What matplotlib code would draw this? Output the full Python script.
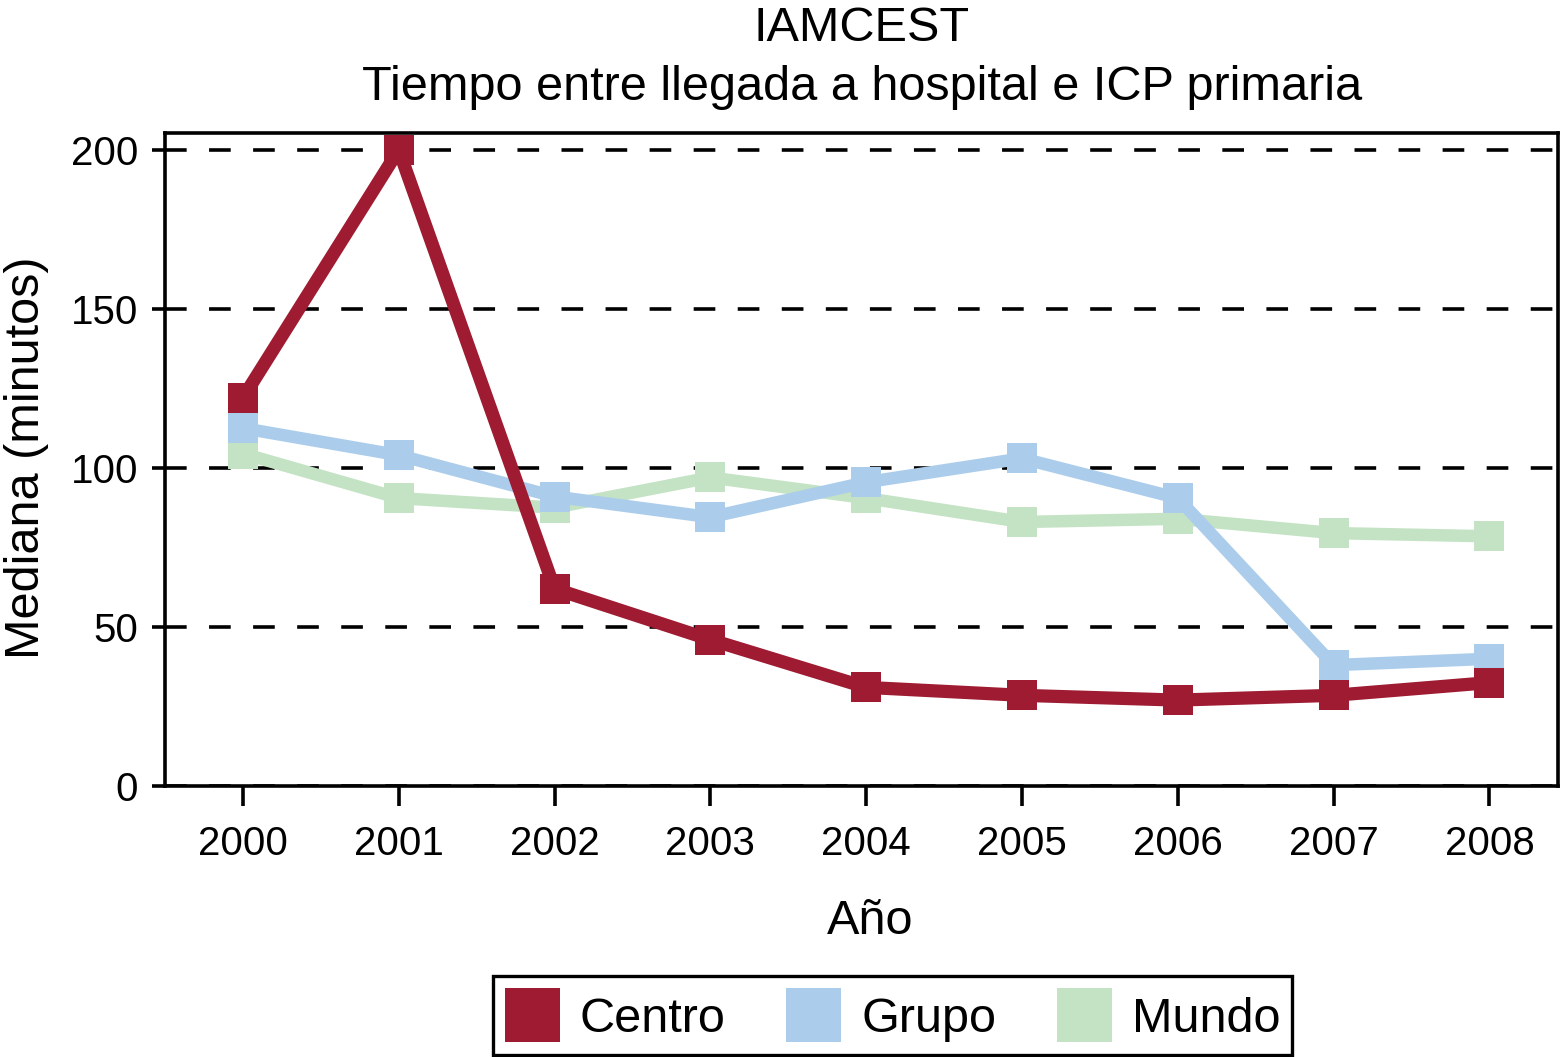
import matplotlib
matplotlib.use('Agg')
import matplotlib.pyplot as plt
from matplotlib.patches import Patch

plt.rcParams['font.family'] = ['Liberation Sans', 'DejaVu Sans']

# Data
years = [2000, 2001, 2002, 2003, 2004, 2005, 2006, 2007, 2008]
centro = [122, 200, 62, 46, 31, 28.5, 27, 28.5, 32.5]
grupo = [112.5, 104, 91, 84.5, 95.5, 103, 90.5, 38, 40]
mundo = [104.5, 90.5, 87.5, 97, 90.5, 83, 84, 79.5, 78.5]
series_names = ['Centro', 'Grupo', 'Mundo']
yticks = [0, 50, 100, 150, 200]

red = '#9E1B32'
blue = '#ABCDEB'
green = '#C4E3C4'

fig = plt.figure(figsize=(15.61, 10.57), dpi=100)
ax = fig.add_axes([0.1057, 0.2564, 0.8924, 0.6178])

# lines (Mundo underneath, Centro on top)
ax.plot(years, mundo, color=green, lw=9, marker='s', ms=22, mew=0, zorder=3)
ax.plot(years, grupo, color=blue, lw=9, marker='s', ms=22, mew=0, zorder=4)
ax.plot(years, centro, color=red, lw=9.5, marker='s', ms=22, mew=0, zorder=5)

ax.set_xlim(1999.5, 2008.44)
ax.set_ylim(0, 205.3)
ax.set_xticks(years)
ax.set_yticks(yticks)

ax.yaxis.grid(True, color='black', lw=2.6, linestyle=(0, (6, 6.2)))
ax.set_axisbelow(True)

for sp in ax.spines.values():
    sp.set_linewidth(2.6)
ax.tick_params(axis='x', length=14.4, width=2.6, pad=14, labelsize=29)
ax.tick_params(axis='y', length=9.4, width=2.6, pad=10, labelsize=29)

# titles and axis labels
fig.text(0.5522, 1 - 41 / 1057, 'IAMCEST', ha='center', va='baseline', fontsize=35)
fig.text(0.5522, 1 - 100 / 1057, 'Tiempo entre llegada a hospital e ICP primaria',
         ha='center', va='baseline', fontsize=35)
fig.text(27 / 1561, 1 - 458 / 1057, 'Mediana (minutos)', rotation=90,
         ha='center', va='center', fontsize=35)
fig.text(870 / 1561, 1 - 934 / 1057, 'Año', ha='center', va='baseline', fontsize=35)

# legend
handles = [Patch(facecolor=c, edgecolor='none', label=n)
           for c, n in zip([red, blue, green], series_names)]
leg = fig.legend(handles=handles, loc='center', bbox_to_anchor=(0.5718, 0.0393),
                 ncol=3, fontsize=35, frameon=True, fancybox=False,
                 edgecolor='black', framealpha=1, handlelength=1.13,
                 handleheight=1.33, handletextpad=0.41, columnspacing=1.25,
                 borderpad=0.25)
leg.get_frame().set_linewidth(2.4)

fig.savefig('out.png', dpi=100)
